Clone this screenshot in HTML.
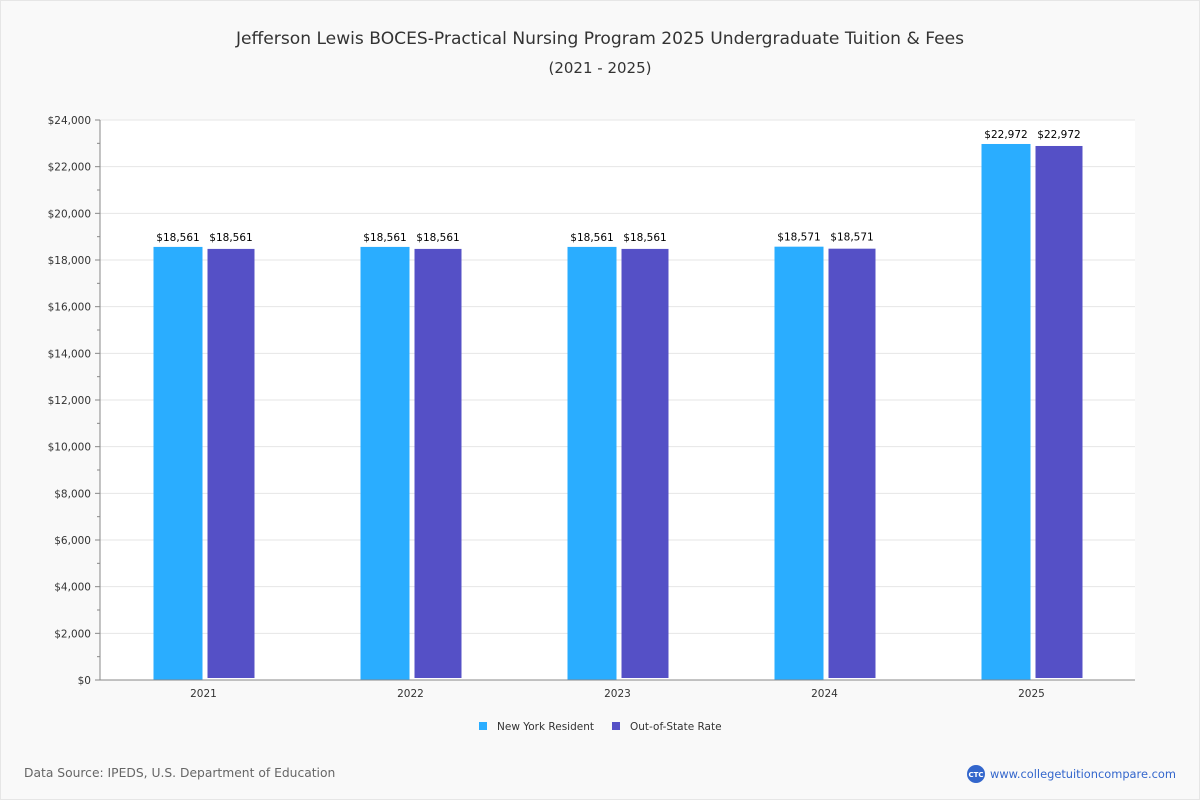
<!DOCTYPE html>
<html><head><meta charset="utf-8"><style>
body{margin:0;background:#f9f9f9;font-family:"DejaVu Sans","Liberation Sans",sans-serif;}
#wrap{position:relative;width:1198px;height:798px;border:1px solid #e6e6e6;background:#f9f9f9;}
</style></head><body>
<div id="wrap">
<svg id="chart" width="1200" height="800" style="position:absolute;left:-1px;top:-1px">
<text x="600" y="44" text-anchor="middle" font-size="17.1" fill="#333">Jefferson Lewis BOCES-Practical Nursing Program 2025 Undergraduate Tuition &amp; Fees</text>
<text x="600" y="73" text-anchor="middle" font-size="15" fill="#333">(2021 - 2025)</text>
<rect x="100" y="120" width="1035" height="560" fill="#fff"/>
<g id="grid"></g><g id="bars"></g><g id="axes"></g>
<g>
<rect x="479" y="722" width="8" height="8" fill="#2aadff"/>
<text x="497" y="730" font-size="10.5" fill="#333">New York Resident</text>
<rect x="612" y="722" width="8" height="8" fill="#5550c6"/>
<text x="630" y="730" font-size="10.5" fill="#333">Out-of-State Rate</text>
</g>
<text x="24" y="777" font-size="12.3" fill="#666">Data Source: IPEDS, U.S. Department of Education</text>
<circle cx="976" cy="774" r="9" fill="#3366cc"/>
<text x="976" y="777" text-anchor="middle" font-size="7" fill="#fff" font-weight="bold">CTC</text>
<text x="990" y="778" font-size="11.4" fill="#3366cc">www.collegetuitioncompare.com</text>
</svg>
</div>
<script>
const categories=["2021","2022","2023","2024","2025"];
const residentValues=[18561,18561,18561,18571,22972];
const outOfStateValues=[18561,18561,18561,18571,22972];
const yTicks=[0,2000,4000,6000,8000,10000,12000,14000,16000,18000,20000,22000,24000];
const NS="http://www.w3.org/2000/svg";
const x0=100,x1=1135,y0=680,y1=120,ymax=24000;
const y=v=>y0-(v/ymax)*(y0-y1);
const bw=(x1-x0)/categories.length;
const cx=i=>x0+bw*(i+0.5);
function mk(t,a,p){const e=document.createElementNS(NS,t);for(const k in a)e.setAttribute(k,a[k]);p.appendChild(e);return e;}
const grid=document.getElementById('grid'),bars=document.getElementById('bars'),axes=document.getElementById('axes');
const fmt=v=>'$'+v.toLocaleString('en-US');
yTicks.forEach((t,i)=>{
 if(t>0){const g=mk('line',{x1:x0,x2:x1,y1:y(t),y2:y(t),stroke:'#e6e6e6'},grid);
 
 }
 const tk=mk('line',{x1:x0-5,x2:x0,y1:y(t),y2:y(t),stroke:'#888'},axes);
 
 
 if(i<yTicks.length-1){const m=mk('line',{x1:x0-3,x2:x0,y1:y(t+1000),y2:y(t+1000),stroke:'#888'},axes);
 
 }
 const tx=mk('text',{x:x0-9,y:y(t)+4,'text-anchor':'end','font-size':10.5,fill:'#333'},axes);
 tx.textContent=fmt(t);
 
 
});
const ax=mk('line',{x1:x0,x2:x0,y1:y1,y2:y0,stroke:'#888'},axes);


const xa=mk('line',{x1:x0,x2:x1,y1:y0,y2:y0,stroke:'#888'},axes);


categories.forEach((c,i)=>{
 const c0=cx(i);
 const b1=mk('rect',{x:c0-50,y:y(residentValues[i]),width:49,height:y0-y(residentValues[i]),fill:'#2aadff'},bars);
 
 
 const b2=mk('rect',{x:c0+4,y:y(outOfStateValues[i])+2,width:47,height:y0-y(outOfStateValues[i])-4,fill:'#5550c6'},bars);
 
 
 const l1=mk('text',{x:c0-25.5,y:y(residentValues[i])-6,'text-anchor':'middle','font-size':10.5,fill:'#000'},bars);
 l1.textContent=fmt(residentValues[i]);
 
 
 const l2=mk('text',{x:c0+27.5,y:y(outOfStateValues[i])-6,'text-anchor':'middle','font-size':10.5,fill:'#000'},bars);
 l2.textContent=fmt(outOfStateValues[i]);
 
 
 const xl=mk('text',{x:c0,y:697,'text-anchor':'middle','font-size':10.5,fill:'#333'},axes);
 xl.textContent=c;
 
 
});
</script>
</body></html>
